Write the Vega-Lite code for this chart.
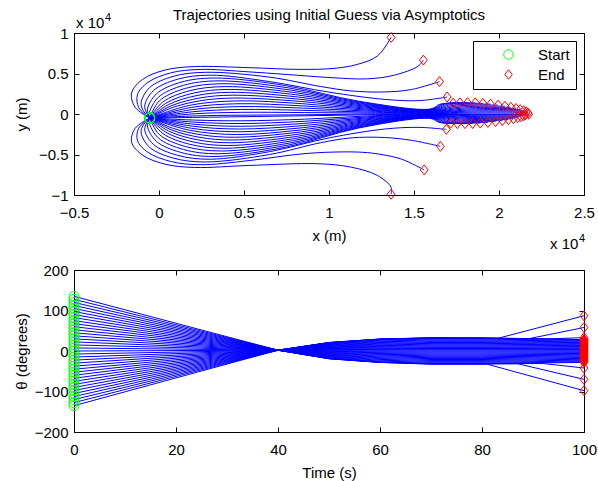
{
"$schema": "https://vega.github.io/schema/vega-lite/v6.json",
"padding": {"left": 14, "top": 8, "right": 5, "bottom": 2},
"bounds": "flush",
"spacing": 75,
"datasets": {
"xy": [
{"k":0,"x":-550,"y":-500},{"k":0,"x":5000,"y":-330},{"k":0,"x":10500,"y":-160},{"k":0,"x":16000,"y":0},{"k":0,"x":18300,"y":-30},{"k":0,"x":21750,"y":-30},
{"k":1,"x":-550,"y":-500},{"k":1,"x":2136,"y":-235},{"k":1,"x":4833,"y":-147},{"k":1,"x":8555,"y":-99},{"k":1,"x":12278,"y":-3},{"k":1,"x":16000,"y":45},{"k":1,"x":18280,"y":108},{"k":1,"x":21700,"y":120},
{"k":2,"x":-550,"y":-500},{"k":2,"x":2108,"y":29},{"k":2,"x":4813,"y":206},{"k":2,"x":8542,"y":177},{"k":2,"x":12271,"y":119},{"k":2,"x":16000,"y":90},{"k":2,"x":18240,"y":234},{"k":2,"x":21600,"y":260},
{"k":3,"x":-550,"y":-500},{"k":3,"x":2060,"y":292},{"k":3,"x":4774,"y":559},{"k":3,"x":8516,"y":453},{"k":3,"x":12258,"y":241},{"k":3,"x":16000,"y":135},{"k":3,"x":18180,"y":360},{"k":3,"x":21450,"y":400},
{"k":4,"x":-550,"y":-500},{"k":4,"x":1992,"y":553},{"k":4,"x":4720,"y":912},{"k":4,"x":8480,"y":729},{"k":4,"x":12240,"y":363},{"k":4,"x":16000,"y":180},{"k":4,"x":18100,"y":486},{"k":4,"x":21250,"y":540},
{"k":5,"x":-550,"y":-500},{"k":5,"x":1904,"y":812},{"k":5,"x":4649,"y":1265},{"k":5,"x":8433,"y":1005},{"k":5,"x":12216,"y":485},{"k":5,"x":16000,"y":225},{"k":5,"x":18000,"y":612},{"k":5,"x":21000,"y":680},
{"k":6,"x":-550,"y":-500},{"k":6,"x":1796,"y":1067},{"k":6,"x":4563,"y":1618},{"k":6,"x":8375,"y":1281},{"k":6,"x":12187,"y":607},{"k":6,"x":16000,"y":270},{"k":6,"x":17880,"y":738},{"k":6,"x":20700,"y":820},
{"k":7,"x":-550,"y":-500},{"k":7,"x":838,"y":829},{"k":7,"x":2561,"y":1679},{"k":7,"x":4461,"y":1971},{"k":7,"x":8307,"y":1557},{"k":7,"x":12154,"y":729},{"k":7,"x":16000,"y":315},{"k":7,"x":17740,"y":864},{"k":7,"x":20350,"y":960},
{"k":8,"x":-550,"y":-500},{"k":8,"x":711,"y":1003},{"k":8,"x":2410,"y":1983},{"k":8,"x":4341,"y":2324},{"k":8,"x":8227,"y":1833},{"k":8,"x":12114,"y":851},{"k":8,"x":16000,"y":360},{"k":8,"x":17580,"y":990},{"k":8,"x":19950,"y":1100},
{"k":9,"x":-550,"y":-500},{"k":9,"x":566,"y":1170},{"k":9,"x":2235,"y":2285},{"k":9,"x":4204,"y":2677},{"k":9,"x":8136,"y":2109},{"k":9,"x":12068,"y":973},{"k":9,"x":16000,"y":405},{"k":9,"x":17400,"y":1098},{"k":9,"x":19500,"y":1220},
{"k":10,"x":-550,"y":-500},{"k":10,"x":402,"y":1329},{"k":10,"x":2038,"y":2584},{"k":10,"x":4051,"y":3030},{"k":10,"x":8034,"y":2385},{"k":10,"x":12017,"y":1095},{"k":10,"x":16000,"y":450},{"k":10,"x":17220,"y":1188},{"k":10,"x":19050,"y":1320},
{"k":11,"x":-550,"y":-500},{"k":11,"x":219,"y":1479},{"k":11,"x":1816,"y":2878},{"k":11,"x":3878,"y":3383},{"k":11,"x":7919,"y":2661},{"k":11,"x":11959,"y":1217},{"k":11,"x":16000,"y":495},{"k":11,"x":17040,"y":1242},{"k":11,"x":18600,"y":1380},
{"k":12,"x":-550,"y":-500},{"k":12,"x":17,"y":1618},{"k":12,"x":1568,"y":3168},{"k":12,"x":3686,"y":3736},{"k":12,"x":7791,"y":2937},{"k":12,"x":11895,"y":1339},{"k":12,"x":16000,"y":540},{"k":12,"x":16860,"y":1260},{"k":12,"x":18150,"y":1400},
{"k":13,"x":-550,"y":-500},{"k":13,"x":-585,"y":30},{"k":13,"x":-41,"y":2059},{"k":13,"x":1445,"y":3545},{"k":13,"x":3474,"y":4089},{"k":13,"x":7649,"y":3213},{"k":13,"x":11825,"y":1461},{"k":13,"x":16000,"y":585},{"k":13,"x":16680,"y":1242},{"k":13,"x":17700,"y":1380},
{"k":14,"x":-550,"y":-500},{"k":14,"x":-684,"y":516},{"k":14,"x":-158,"y":2479},{"k":14,"x":1279,"y":3916},{"k":14,"x":3242,"y":4442},{"k":14,"x":7495,"y":3489},{"k":14,"x":11747,"y":1583},{"k":14,"x":16000,"y":630},{"k":14,"x":16520,"y":1206},{"k":14,"x":17300,"y":1340},
{"k":15,"x":-550,"y":-500},{"k":15,"x":-842,"y":966},{"k":15,"x":-328,"y":2881},{"k":15,"x":1073,"y":4283},{"k":15,"x":2988,"y":4795},{"k":15,"x":6500,"y":4000},{"k":15,"x":10000,"y":2700},{"k":15,"x":13300,"y":1800},{"k":15,"x":15300,"y":1650},{"k":15,"x":16950,"y":2100},
{"k":16,"x":-550,"y":-500},{"k":16,"x":-926,"y":408},{"k":16,"x":-1054,"y":1383},{"k":16,"x":-550,"y":3265},{"k":16,"x":828,"y":4643},{"k":16,"x":2711,"y":5148},{"k":16,"x":6500,"y":4550},{"k":16,"x":9500,"y":3400},{"k":16,"x":11300,"y":2850},{"k":16,"x":13250,"y":2720},{"k":16,"x":14850,"y":3020},{"k":16,"x":16500,"y":4000},
{"k":17,"x":-550,"y":-500},{"k":17,"x":-1194,"y":805},{"k":17,"x":-1264,"y":2418},{"k":17,"x":-646,"y":3910},{"k":17,"x":687,"y":5079},{"k":17,"x":2409,"y":5501},{"k":17,"x":5300,"y":5200},{"k":17,"x":8290,"y":4760},{"k":17,"x":10275,"y":4470},{"k":17,"x":12260,"y":4340},{"k":17,"x":13855,"y":4800},{"k":17,"x":15240,"y":5900},{"k":17,"x":15550,"y":6650},
{"k":18,"x":-550,"y":-500},{"k":18,"x":-1416,"y":859},{"k":18,"x":-1608,"y":2618},{"k":18,"x":-967,"y":4267},{"k":18,"x":363,"y":5433},{"k":18,"x":2082,"y":5854},{"k":18,"x":5312,"y":5718},{"k":18,"x":8288,"y":5509},{"k":18,"x":10280,"y":5632},{"k":18,"x":11669,"y":6123},{"k":18,"x":12858,"y":7178},{"k":18,"x":13650,"y":9450},
{"k":-1,"x":-550,"y":-500},{"k":-1,"x":2136,"y":-754},{"k":-1,"x":4833,"y":-839},{"k":-1,"x":8555,"y":-639},{"k":-1,"x":12278,"y":-240},{"k":-1,"x":16000,"y":-40},{"k":-1,"x":18220,"y":-92},{"k":-1,"x":21550,"y":-102},
{"k":-2,"x":-550,"y":-500},{"k":-2,"x":2108,"y":-1008},{"k":-2,"x":4813,"y":-1178},{"k":-2,"x":8542,"y":-904},{"k":-2,"x":12271,"y":-355},{"k":-2,"x":16000,"y":-80},{"k":-2,"x":18180,"y":-199},{"k":-2,"x":21450,"y":-221},
{"k":-3,"x":-550,"y":-500},{"k":-3,"x":2060,"y":-1260},{"k":-3,"x":4774,"y":-1517},{"k":-3,"x":8516,"y":-1168},{"k":-3,"x":12258,"y":-469},{"k":-3,"x":16000,"y":-120},{"k":-3,"x":18120,"y":-306},{"k":-3,"x":21300,"y":-340},
{"k":-4,"x":-550,"y":-500},{"k":-4,"x":1992,"y":-1511},{"k":-4,"x":4720,"y":-1856},{"k":-4,"x":8480,"y":-1432},{"k":-4,"x":12240,"y":-584},{"k":-4,"x":16000,"y":-160},{"k":-4,"x":18040,"y":-413},{"k":-4,"x":21100,"y":-459},
{"k":-5,"x":-550,"y":-500},{"k":-5,"x":1904,"y":-1760},{"k":-5,"x":4649,"y":-2194},{"k":-5,"x":8433,"y":-1696},{"k":-5,"x":12216,"y":-699},{"k":-5,"x":16000,"y":-200},{"k":-5,"x":17940,"y":-520},{"k":-5,"x":20850,"y":-578},
{"k":-6,"x":-550,"y":-500},{"k":-6,"x":1796,"y":-2004},{"k":-6,"x":4563,"y":-2533},{"k":-6,"x":8375,"y":-1960},{"k":-6,"x":12187,"y":-813},{"k":-6,"x":16000,"y":-240},{"k":-6,"x":17820,"y":-627},{"k":-6,"x":20550,"y":-697},
{"k":-7,"x":-550,"y":-500},{"k":-7,"x":838,"y":-1776},{"k":-7,"x":2561,"y":-2592},{"k":-7,"x":4461,"y":-2872},{"k":-7,"x":8307,"y":-2224},{"k":-7,"x":12154,"y":-928},{"k":-7,"x":16000,"y":-280},{"k":-7,"x":17680,"y":-734},{"k":-7,"x":20200,"y":-816},
{"k":-8,"x":-550,"y":-500},{"k":-8,"x":711,"y":-1943},{"k":-8,"x":2410,"y":-2884},{"k":-8,"x":4341,"y":-3211},{"k":-8,"x":8227,"y":-2488},{"k":-8,"x":12114,"y":-1043},{"k":-8,"x":16000,"y":-320},{"k":-8,"x":17520,"y":-842},{"k":-8,"x":19800,"y":-935},
{"k":-9,"x":-550,"y":-500},{"k":-9,"x":566,"y":-2103},{"k":-9,"x":2235,"y":-3174},{"k":-9,"x":4204,"y":-3550},{"k":-9,"x":8136,"y":-2753},{"k":-9,"x":12068,"y":-1158},{"k":-9,"x":16000,"y":-360},{"k":-9,"x":17340,"y":-933},{"k":-9,"x":19350,"y":-1037},
{"k":-10,"x":-550,"y":-500},{"k":-10,"x":402,"y":-2256},{"k":-10,"x":2038,"y":-3461},{"k":-10,"x":4051,"y":-3889},{"k":-10,"x":8034,"y":-3017},{"k":-10,"x":12017,"y":-1272},{"k":-10,"x":16000,"y":-400},{"k":-10,"x":17160,"y":-1010},{"k":-10,"x":18900,"y":-1122},
{"k":-11,"x":-550,"y":-500},{"k":-11,"x":219,"y":-2400},{"k":-11,"x":1816,"y":-3743},{"k":-11,"x":3878,"y":-4228},{"k":-11,"x":7919,"y":-3281},{"k":-11,"x":11959,"y":-1387},{"k":-11,"x":16000,"y":-440},{"k":-11,"x":16980,"y":-1056},{"k":-11,"x":18450,"y":-1173},
{"k":-12,"x":-550,"y":-500},{"k":-12,"x":17,"y":-2533},{"k":-12,"x":1568,"y":-4021},{"k":-12,"x":3686,"y":-4567},{"k":-12,"x":7791,"y":-3545},{"k":-12,"x":11895,"y":-1502},{"k":-12,"x":16000,"y":-480},{"k":-12,"x":16800,"y":-1071},{"k":-12,"x":18000,"y":-1190},
{"k":-13,"x":-550,"y":-500},{"k":-13,"x":-585,"y":-1009},{"k":-13,"x":-41,"y":-2957},{"k":-13,"x":1445,"y":-4383},{"k":-13,"x":3474,"y":-4905},{"k":-13,"x":7649,"y":-3809},{"k":-13,"x":11825,"y":-1616},{"k":-13,"x":16000,"y":-520},{"k":-13,"x":16620,"y":-1056},{"k":-13,"x":17550,"y":-1173},
{"k":-14,"x":-550,"y":-500},{"k":-14,"x":-684,"y":-1475},{"k":-14,"x":-158,"y":-3360},{"k":-14,"x":1279,"y":-4739},{"k":-14,"x":3242,"y":-5244},{"k":-14,"x":7495,"y":-4073},{"k":-14,"x":11747,"y":-1731},{"k":-14,"x":16000,"y":-560},{"k":-14,"x":16460,"y":-1025},{"k":-14,"x":17150,"y":-1139},
{"k":-15,"x":-550,"y":-500},{"k":-15,"x":-842,"y":-1907},{"k":-15,"x":-328,"y":-3746},{"k":-15,"x":1073,"y":-5092},{"k":-15,"x":2988,"y":-5583},{"k":-15,"x":6500,"y":-4650},{"k":-15,"x":10000,"y":-2950},{"k":-15,"x":13300,"y":-1850},{"k":-15,"x":15300,"y":-1650},{"k":-15,"x":16900,"y":-1900},
{"k":-16,"x":-550,"y":-500},{"k":-16,"x":-926,"y":-1372},{"k":-16,"x":-1054,"y":-2308},{"k":-16,"x":-550,"y":-4114},{"k":-16,"x":828,"y":-5437},{"k":-16,"x":2711,"y":-5922},{"k":-16,"x":6500,"y":-5000},{"k":-16,"x":9500,"y":-3550},{"k":-16,"x":11300,"y":-2950},{"k":-16,"x":13250,"y":-2900},{"k":-16,"x":14850,"y":-3250},{"k":-16,"x":16550,"y":-4000},
{"k":-17,"x":-550,"y":-500},{"k":-17,"x":-1194,"y":-1753},{"k":-17,"x":-1264,"y":-3301},{"k":-17,"x":-646,"y":-4734},{"k":-17,"x":687,"y":-5856},{"k":-17,"x":2409,"y":-6261},{"k":-17,"x":5300,"y":-5750},{"k":-17,"x":8290,"y":-4950},{"k":-17,"x":10275,"y":-4700},{"k":-17,"x":12260,"y":-4770},{"k":-17,"x":14000,"y":-5400},{"k":-17,"x":14650,"y":-5900},{"k":-17,"x":15600,"y":-6900},
{"k":-18,"x":-550,"y":-500},{"k":-18,"x":-1416,"y":-1805},{"k":-18,"x":-1608,"y":-3493},{"k":-18,"x":-967,"y":-5076},{"k":-18,"x":363,"y":-6196},{"k":-18,"x":2082,"y":-6600},{"k":-18,"x":5312,"y":-6350},{"k":-18,"x":9284,"y":-6135},{"k":-18,"x":11270,"y":-6550},{"k":-18,"x":12858,"y":-7595},{"k":-18,"x":13655,"y":-9055},{"k":-18,"x":13650,"y":-9900}
],
"mk": [
{"m":"Start","x":-550,"y":-500},{"m":"Start","x":-550,"y":-500},{"m":"Start","x":-550,"y":-500},{"m":"Start","x":-550,"y":-500},{"m":"Start","x":-550,"y":-500},{"m":"Start","x":-550,"y":-500},{"m":"Start","x":-550,"y":-500},{"m":"Start","x":-550,"y":-500},{"m":"Start","x":-550,"y":-500},{"m":"Start","x":-550,"y":-500},
{"m":"End","x":21750,"y":-30},
{"m":"End","x":21700,"y":120},{"m":"End","x":21600,"y":260},{"m":"End","x":21450,"y":400},{"m":"End","x":21250,"y":540},{"m":"End","x":21000,"y":680},{"m":"End","x":20700,"y":820},{"m":"End","x":20350,"y":960},{"m":"End","x":19950,"y":1100},{"m":"End","x":19500,"y":1220},{"m":"End","x":19050,"y":1320},{"m":"End","x":18600,"y":1380},{"m":"End","x":18150,"y":1400},{"m":"End","x":17700,"y":1380},{"m":"End","x":17300,"y":1340},
{"m":"End","x":16950,"y":2100},{"m":"End","x":16500,"y":4000},{"m":"End","x":15550,"y":6650},{"m":"End","x":13650,"y":9450},
{"m":"End","x":21550,"y":-102},{"m":"End","x":21450,"y":-221},{"m":"End","x":21300,"y":-340},{"m":"End","x":21100,"y":-459},{"m":"End","x":20850,"y":-578},{"m":"End","x":20550,"y":-697},{"m":"End","x":20200,"y":-816},{"m":"End","x":19800,"y":-935},{"m":"End","x":19350,"y":-1037},{"m":"End","x":18900,"y":-1122},{"m":"End","x":18450,"y":-1173},{"m":"End","x":18000,"y":-1190},{"m":"End","x":17550,"y":-1173},{"m":"End","x":17150,"y":-1139},
{"m":"End","x":16900,"y":-1900},{"m":"End","x":16550,"y":-4000},{"m":"End","x":15600,"y":-6900},{"m":"End","x":13650,"y":-9900}
],
"th": [
{"k":0,"t":0,"a":0},{"k":0,"t":40,"a":2},{"k":0,"t":100,"a":2},
{"k":1,"t":0,"a":7.5},{"k":1,"t":40,"a":2},{"k":1,"t":50,"a":0.6},{"k":1,"t":60,"a":-0.1},{"k":1,"t":70,"a":-0.3},{"k":1,"t":80,"a":-0.3},{"k":1,"t":90,"a":-0.2},{"k":1,"t":100,"a":0},
{"k":2,"t":0,"a":15},{"k":2,"t":40,"a":2},{"k":2,"t":50,"a":-0.9},{"k":2,"t":60,"a":-2.1},{"k":2,"t":70,"a":-2.6},{"k":2,"t":80,"a":-2.6},{"k":2,"t":90,"a":-2.4},{"k":2,"t":100,"a":-2.1},
{"k":3,"t":0,"a":22.5},{"k":3,"t":40,"a":2},{"k":3,"t":50,"a":-2.3},{"k":3,"t":60,"a":-4.2},{"k":3,"t":70,"a":-4.9},{"k":3,"t":80,"a":-4.9},{"k":3,"t":90,"a":-4.6},{"k":3,"t":100,"a":-4.1},
{"k":4,"t":0,"a":30},{"k":4,"t":40,"a":2},{"k":4,"t":50,"a":-3.7},{"k":4,"t":60,"a":-6.3},{"k":4,"t":70,"a":-7.2},{"k":4,"t":80,"a":-7.2},{"k":4,"t":90,"a":-6.7},{"k":4,"t":100,"a":-6.1},
{"k":5,"t":0,"a":37.5},{"k":5,"t":40,"a":2},{"k":5,"t":50,"a":-5.1},{"k":5,"t":60,"a":-8.4},{"k":5,"t":70,"a":-9.5},{"k":5,"t":80,"a":-9.5},{"k":5,"t":90,"a":-8.9},{"k":5,"t":100,"a":-8.1},
{"k":6,"t":0,"a":45},{"k":6,"t":40,"a":2},{"k":6,"t":50,"a":-6.6},{"k":6,"t":60,"a":-10.4},{"k":6,"t":70,"a":-11.8},{"k":6,"t":80,"a":-11.8},{"k":6,"t":90,"a":-11.1},{"k":6,"t":100,"a":-10.1},
{"k":7,"t":0,"a":52.5},{"k":7,"t":40,"a":2},{"k":7,"t":50,"a":-8},{"k":7,"t":60,"a":-12.5},{"k":7,"t":70,"a":-14.1},{"k":7,"t":80,"a":-14.1},{"k":7,"t":90,"a":-13.3},{"k":7,"t":100,"a":-12.2},
{"k":8,"t":0,"a":60},{"k":8,"t":40,"a":2},{"k":8,"t":50,"a":-9.4},{"k":8,"t":60,"a":-14.6},{"k":8,"t":70,"a":-16.4},{"k":8,"t":80,"a":-16.4},{"k":8,"t":90,"a":-15.5},{"k":8,"t":100,"a":-14.2},
{"k":9,"t":0,"a":67.5},{"k":9,"t":40,"a":2},{"k":9,"t":50,"a":-10.8},{"k":9,"t":60,"a":-16.6},{"k":9,"t":70,"a":-18.7},{"k":9,"t":80,"a":-18.7},{"k":9,"t":90,"a":-17.7},{"k":9,"t":100,"a":-16.2},
{"k":10,"t":0,"a":75},{"k":10,"t":40,"a":2},{"k":10,"t":50,"a":-12.3},{"k":10,"t":60,"a":-18.7},{"k":10,"t":70,"a":-21},{"k":10,"t":80,"a":-21},{"k":10,"t":90,"a":-19.9},{"k":10,"t":100,"a":-18.2},
{"k":11,"t":0,"a":82.5},{"k":11,"t":40,"a":2},{"k":11,"t":50,"a":-13.7},{"k":11,"t":60,"a":-20.8},{"k":11,"t":70,"a":-23.3},{"k":11,"t":80,"a":-23.3},{"k":11,"t":90,"a":-22},{"k":11,"t":100,"a":-20.3},
{"k":12,"t":0,"a":90},{"k":12,"t":40,"a":2},{"k":12,"t":50,"a":-15.1},{"k":12,"t":60,"a":-22.8},{"k":12,"t":70,"a":-25.6},{"k":12,"t":80,"a":-25.6},{"k":12,"t":90,"a":-24.2},{"k":12,"t":100,"a":-22.3},
{"k":13,"t":0,"a":97.5},{"k":13,"t":40,"a":2},{"k":13,"t":50,"a":-16.5},{"k":13,"t":60,"a":-24.9},{"k":13,"t":70,"a":-27.9},{"k":13,"t":80,"a":-27.9},{"k":13,"t":90,"a":-26.4},{"k":13,"t":100,"a":-24.3},
{"k":14,"t":0,"a":105},{"k":14,"t":40,"a":2},{"k":14,"t":50,"a":-18},{"k":14,"t":60,"a":-27},{"k":14,"t":70,"a":-30.2},{"k":14,"t":80,"a":-30.2},{"k":14,"t":90,"a":-28.6},{"k":14,"t":100,"a":-26.3},
{"k":15,"t":0,"a":112.5},{"k":15,"t":40,"a":2},{"k":15,"t":50,"a":-18.5},{"k":15,"t":60,"a":-27.5},{"k":15,"t":70,"a":-31},{"k":15,"t":80,"a":-31},{"k":15,"t":90,"a":-30},{"k":15,"t":100,"a":-28},
{"k":16,"t":0,"a":120},{"k":16,"t":40,"a":2},{"k":16,"t":50,"a":-18.7},{"k":16,"t":60,"a":-27.8},{"k":16,"t":70,"a":-31.5},{"k":16,"t":80,"a":-31.5},{"k":16,"t":92,"a":-31},{"k":16,"t":100,"a":-42},
{"k":17,"t":0,"a":127.5},{"k":17,"t":40,"a":2},{"k":17,"t":50,"a":-19},{"k":17,"t":60,"a":-28},{"k":17,"t":70,"a":-32},{"k":17,"t":80,"a":-32},{"k":17,"t":87,"a":-31.5},{"k":17,"t":100,"a":-70},
{"k":18,"t":0,"a":135},{"k":18,"t":40,"a":2},{"k":18,"t":50,"a":-19.2},{"k":18,"t":60,"a":-28.3},{"k":18,"t":70,"a":-32.5},{"k":18,"t":81,"a":-32.5},{"k":18,"t":100,"a":-98},
{"k":-1,"t":0,"a":-7.5},{"k":-1,"t":40,"a":2},{"k":-1,"t":50,"a":3.3},{"k":-1,"t":60,"a":3.9},{"k":-1,"t":70,"a":4.1},{"k":-1,"t":80,"a":4.1},{"k":-1,"t":90,"a":4},{"k":-1,"t":100,"a":3.8},
{"k":-2,"t":0,"a":-15},{"k":-2,"t":40,"a":2},{"k":-2,"t":50,"a":4.6},{"k":-2,"t":60,"a":5.8},{"k":-2,"t":70,"a":6.2},{"k":-2,"t":80,"a":6.2},{"k":-2,"t":90,"a":6},{"k":-2,"t":100,"a":5.7},
{"k":-3,"t":0,"a":-22.5},{"k":-3,"t":40,"a":2},{"k":-3,"t":50,"a":5.9},{"k":-3,"t":60,"a":7.7},{"k":-3,"t":70,"a":8.3},{"k":-3,"t":80,"a":8.3},{"k":-3,"t":90,"a":8},{"k":-3,"t":100,"a":7.5},
{"k":-4,"t":0,"a":-30},{"k":-4,"t":40,"a":2},{"k":-4,"t":50,"a":7.2},{"k":-4,"t":60,"a":9.6},{"k":-4,"t":70,"a":10.4},{"k":-4,"t":80,"a":10.4},{"k":-4,"t":90,"a":10},{"k":-4,"t":100,"a":9.4},
{"k":-5,"t":0,"a":-37.5},{"k":-5,"t":40,"a":2},{"k":-5,"t":50,"a":8.5},{"k":-5,"t":60,"a":11.5},{"k":-5,"t":70,"a":12.5},{"k":-5,"t":80,"a":12.5},{"k":-5,"t":90,"a":12},{"k":-5,"t":100,"a":11.2},
{"k":-6,"t":0,"a":-45},{"k":-6,"t":40,"a":2},{"k":-6,"t":50,"a":9.8},{"k":-6,"t":60,"a":13.3},{"k":-6,"t":70,"a":14.6},{"k":-6,"t":80,"a":14.6},{"k":-6,"t":90,"a":14},{"k":-6,"t":100,"a":13.1},
{"k":-7,"t":0,"a":-52.5},{"k":-7,"t":40,"a":2},{"k":-7,"t":50,"a":11.1},{"k":-7,"t":60,"a":15.2},{"k":-7,"t":70,"a":16.7},{"k":-7,"t":80,"a":16.7},{"k":-7,"t":90,"a":16},{"k":-7,"t":100,"a":14.9},
{"k":-8,"t":0,"a":-60},{"k":-8,"t":40,"a":2},{"k":-8,"t":50,"a":12.4},{"k":-8,"t":60,"a":17.1},{"k":-8,"t":70,"a":18.8},{"k":-8,"t":80,"a":18.8},{"k":-8,"t":90,"a":18},{"k":-8,"t":100,"a":16.8},
{"k":-9,"t":0,"a":-67.5},{"k":-9,"t":40,"a":2},{"k":-9,"t":50,"a":13.7},{"k":-9,"t":60,"a":19},{"k":-9,"t":70,"a":20.9},{"k":-9,"t":80,"a":20.9},{"k":-9,"t":90,"a":20},{"k":-9,"t":100,"a":18.6},
{"k":-10,"t":0,"a":-75},{"k":-10,"t":40,"a":2},{"k":-10,"t":50,"a":15},{"k":-10,"t":60,"a":20.9},{"k":-10,"t":70,"a":23},{"k":-10,"t":80,"a":23},{"k":-10,"t":90,"a":22},{"k":-10,"t":100,"a":20.5},
{"k":-11,"t":0,"a":-82.5},{"k":-11,"t":40,"a":2},{"k":-11,"t":50,"a":16.3},{"k":-11,"t":60,"a":22.8},{"k":-11,"t":70,"a":25.1},{"k":-11,"t":80,"a":25.1},{"k":-11,"t":90,"a":23.9},{"k":-11,"t":100,"a":22.3},
{"k":-12,"t":0,"a":-90},{"k":-12,"t":40,"a":2},{"k":-12,"t":50,"a":17.6},{"k":-12,"t":60,"a":24.7},{"k":-12,"t":70,"a":27.2},{"k":-12,"t":80,"a":27.2},{"k":-12,"t":90,"a":25.9},{"k":-12,"t":100,"a":24.2},
{"k":-13,"t":0,"a":-97.5},{"k":-13,"t":40,"a":2},{"k":-13,"t":50,"a":18.9},{"k":-13,"t":60,"a":26.6},{"k":-13,"t":70,"a":29.3},{"k":-13,"t":80,"a":29.3},{"k":-13,"t":90,"a":27.9},{"k":-13,"t":100,"a":26},
{"k":-14,"t":0,"a":-105},{"k":-14,"t":40,"a":2},{"k":-14,"t":50,"a":20.2},{"k":-14,"t":60,"a":28.5},{"k":-14,"t":70,"a":31.4},{"k":-14,"t":80,"a":31.4},{"k":-14,"t":90,"a":29.9},{"k":-14,"t":100,"a":27.9},
{"k":-15,"t":0,"a":-112.5},{"k":-15,"t":40,"a":2},{"k":-15,"t":50,"a":20.5},{"k":-15,"t":60,"a":29},{"k":-15,"t":70,"a":32},{"k":-15,"t":80,"a":32},{"k":-15,"t":90,"a":30.5},{"k":-15,"t":100,"a":28},
{"k":-16,"t":0,"a":-120},{"k":-16,"t":40,"a":2},{"k":-16,"t":50,"a":20.6},{"k":-16,"t":60,"a":29.2},{"k":-16,"t":70,"a":32.2},{"k":-16,"t":80,"a":32},{"k":-16,"t":93,"a":30},{"k":-16,"t":100,"a":33},
{"k":-17,"t":0,"a":-127.5},{"k":-17,"t":40,"a":2},{"k":-17,"t":50,"a":20.8},{"k":-17,"t":60,"a":29.4},{"k":-17,"t":70,"a":32.4},{"k":-17,"t":80,"a":32},{"k":-17,"t":89,"a":30},{"k":-17,"t":100,"a":58},
{"k":-18,"t":0,"a":-135},{"k":-18,"t":40,"a":2},{"k":-18,"t":50,"a":21},{"k":-18,"t":60,"a":29.6},{"k":-18,"t":70,"a":32.6},{"k":-18,"t":83,"a":31},{"k":-18,"t":100,"a":87}
],
"tm": [
{"m":"Start","t":0,"a":135},{"m":"Start","t":0,"a":127.5},{"m":"Start","t":0,"a":120},{"m":"Start","t":0,"a":112.5},{"m":"Start","t":0,"a":105},{"m":"Start","t":0,"a":97.5},{"m":"Start","t":0,"a":90},{"m":"Start","t":0,"a":82.5},{"m":"Start","t":0,"a":75},{"m":"Start","t":0,"a":67.5},{"m":"Start","t":0,"a":60},{"m":"Start","t":0,"a":52.5},{"m":"Start","t":0,"a":45},{"m":"Start","t":0,"a":37.5},{"m":"Start","t":0,"a":30},{"m":"Start","t":0,"a":22.5},{"m":"Start","t":0,"a":15},{"m":"Start","t":0,"a":7.5},{"m":"Start","t":0,"a":0},
{"m":"Start","t":0,"a":-7.5},{"m":"Start","t":0,"a":-15},{"m":"Start","t":0,"a":-22.5},{"m":"Start","t":0,"a":-30},{"m":"Start","t":0,"a":-37.5},{"m":"Start","t":0,"a":-45},{"m":"Start","t":0,"a":-52.5},{"m":"Start","t":0,"a":-60},{"m":"Start","t":0,"a":-67.5},{"m":"Start","t":0,"a":-75},{"m":"Start","t":0,"a":-82.5},{"m":"Start","t":0,"a":-90},{"m":"Start","t":0,"a":-97.5},{"m":"Start","t":0,"a":-105},{"m":"Start","t":0,"a":-112.5},{"m":"Start","t":0,"a":-120},{"m":"Start","t":0,"a":-127.5},{"m":"Start","t":0,"a":-135},
{"m":"End","t":100,"a":2},{"m":"End","t":100,"a":0},{"m":"End","t":100,"a":-2.1},{"m":"End","t":100,"a":-4.1},{"m":"End","t":100,"a":-6.1},{"m":"End","t":100,"a":-8.1},{"m":"End","t":100,"a":-10.1},{"m":"End","t":100,"a":-12.2},{"m":"End","t":100,"a":-14.2},{"m":"End","t":100,"a":-16.2},{"m":"End","t":100,"a":-18.2},{"m":"End","t":100,"a":-20.3},{"m":"End","t":100,"a":-22.3},{"m":"End","t":100,"a":-24.3},{"m":"End","t":100,"a":-26.3},{"m":"End","t":100,"a":-28},{"m":"End","t":100,"a":-42},{"m":"End","t":100,"a":-70},{"m":"End","t":100,"a":-98},
{"m":"End","t":100,"a":3.8},{"m":"End","t":100,"a":5.7},{"m":"End","t":100,"a":7.5},{"m":"End","t":100,"a":9.4},{"m":"End","t":100,"a":11.2},{"m":"End","t":100,"a":13.1},{"m":"End","t":100,"a":14.9},{"m":"End","t":100,"a":16.8},{"m":"End","t":100,"a":18.6},{"m":"End","t":100,"a":20.5},{"m":"End","t":100,"a":22.3},{"m":"End","t":100,"a":24.2},{"m":"End","t":100,"a":26},{"m":"End","t":100,"a":27.9},{"m":"End","t":100,"a":28},{"m":"End","t":100,"a":33},{"m":"End","t":100,"a":58},{"m":"End","t":100,"a":87}
]
},
"resolve": {"scale": {"color": "independent", "shape": "independent"}, "legend": {"color": "independent", "shape": "independent"}},
"vconcat": [
{
"width": 510, "height": 162,
"title": {"text": "Trajectories using Initial Guess via Asymptotics"},
"resolve": {"axis": {"x": "independent", "y": "independent"}},
"layer": [
{
"data": {"name": "xy"},
"mark": {"type": "line", "color": "#0000ff", "strokeWidth": 1, "interpolate": "catmull-rom"},
"encoding": {
"x": {"field": "x", "type": "quantitative", "scale": {"domain": [-5000, 25000], "nice": false, "zero": false},
 "axis": {"title": "x (m)", "values": [-5000, 0, 5000, 10000, 15000, 20000, 25000], "labelExpr": "format(datum.value/10000, '~g')"}},
"y": {"field": "y", "type": "quantitative", "scale": {"domain": [-10000, 10000], "nice": false, "zero": false},
 "axis": {"title": "y (m)", "values": [-10000, -5000, 0, 5000, 10000], "labelExpr": "format(datum.value/10000, '~g')", "titlePadding": 9}},
"detail": {"field": "k", "type": "nominal"},
"order": {"value": null}
}
},
{
"data": {"name": "mk"},
"mark": {"type": "point", "filled": false, "strokeWidth": 1, "size": 100, "opacity": 1},
"encoding": {
"x": {"field": "x", "type": "quantitative", "axis": {"orient": "top", "labels": false, "title": null, "values": [-5000, 0, 5000, 10000, 15000, 20000, 25000]}},
"y": {"field": "y", "type": "quantitative", "axis": {"orient": "right", "labels": false, "title": null, "values": [-10000, -5000, 0, 5000, 10000]}},
"color": {"field": "m", "type": "nominal", "scale": {"domain": ["Start", "End"], "range": ["#00ff00", "#ff0000"]}, "legend": {"title": null}},
"shape": {"field": "m", "type": "nominal", "scale": {"domain": ["Start", "End"], "range": ["circle", "M0,-1L0.78,0L0,1L-0.78,0Z"]}, "legend": {"title": null}}
}
},
{
"data": {"values": [{}]},
"mark": {"type": "text", "text": "x 10", "align": "left", "baseline": "alphabetic", "fontSize": 15, "dx": 2, "dy": -5},
"encoding": {"x": {"datum": -5000, "axis": null}, "y": {"datum": 10000, "axis": null}}
},
{
"data": {"values": [{}]},
"mark": {"type": "text", "text": "4", "align": "left", "baseline": "alphabetic", "fontSize": 11, "dx": 31, "dy": -12},
"encoding": {"x": {"datum": -5000, "axis": null}, "y": {"datum": 10000, "axis": null}}
},
{
"data": {"values": [{}]},
"mark": {"type": "text", "text": "x 10", "align": "left", "baseline": "alphabetic", "fontSize": 15, "dx": -34, "dy": 54},
"encoding": {"x": {"datum": 25000, "axis": null}, "y": {"datum": -10000, "axis": null}}
},
{
"data": {"values": [{}]},
"mark": {"type": "text", "text": "4", "align": "left", "baseline": "alphabetic", "fontSize": 11, "dx": -5, "dy": 47},
"encoding": {"x": {"datum": 25000, "axis": null}, "y": {"datum": -10000, "axis": null}}
}
]
},
{
"width": 510, "height": 162,
"resolve": {"axis": {"x": "independent", "y": "independent"}},
"layer": [
{
"data": {"name": "th"},
"mark": {"type": "line", "color": "#0000ff", "strokeWidth": 1},
"encoding": {
"x": {"field": "t", "type": "quantitative", "scale": {"domain": [0, 100], "nice": false}, "axis": {"title": "Time (s)", "values": [0, 20, 40, 60, 80, 100]}},
"y": {"field": "a", "type": "quantitative", "scale": {"domain": [-200, 200], "nice": false}, "axis": {"title": "θ (degrees)", "values": [-200, -100, 0, 100, 200], "titlePadding": 5}},
"detail": {"field": "k", "type": "nominal"},
"order": {"value": null}
}
},
{
"data": {"name": "tm"},
"transform": [{"filter": "datum.m == 'Start'"}],
"mark": {"type": "point", "shape": "circle", "filled": false, "color": "#00ff00", "strokeWidth": 1, "size": 100, "opacity": 1},
"encoding": {
"x": {"field": "t", "type": "quantitative", "axis": {"orient": "top", "labels": false, "title": null, "values": [0, 20, 40, 60, 80, 100]}},
"y": {"field": "a", "type": "quantitative", "axis": {"orient": "right", "labels": false, "title": null, "values": [-200, -100, 0, 100, 200]}}
}
},
{
"data": {"name": "tm"},
"transform": [{"filter": "datum.m == 'End'"}],
"mark": {"type": "point", "shape": "M0,-1L0.78,0L0,1L-0.78,0Z", "filled": false, "color": "#ff0000", "strokeWidth": 1, "size": 100, "opacity": 1},
"encoding": {
"x": {"field": "t", "type": "quantitative", "axis": null},
"y": {"field": "a", "type": "quantitative", "axis": null}
}
}
]
}
],
"config": {
"font": "Liberation Sans",
"view": {"stroke": null},
"axis": {"domainColor": "#000", "domainWidth": 1, "tickColor": "#000", "tickWidth": 1, "tickSize": -5, "labelColor": "#000", "labelFontSize": 15, "titleFontSize": 15, "titleFontWeight": "normal", "titleColor": "#000", "grid": false, "labelFlush": false, "labelOverlap": false},
"axisX": {"labelPadding": 15, "titlePadding": 8},
"axisY": {"labelPadding": 11},
"legend": {"orient": "top-right", "offset": 8, "padding": 6, "fillColor": "#ffffff", "strokeColor": "#000000", "symbolOffset": 22, "labelOffset": 22, "labelFontSize": 15, "labelColor": "#000", "rowPadding": 4, "symbolSize": 90, "symbolStrokeWidth": 1},
"title": {"fontSize": 15, "fontWeight": "normal", "color": "#000", "offset": -11, "frame": "group"},
"text": {"color": "#000"}
}
}
